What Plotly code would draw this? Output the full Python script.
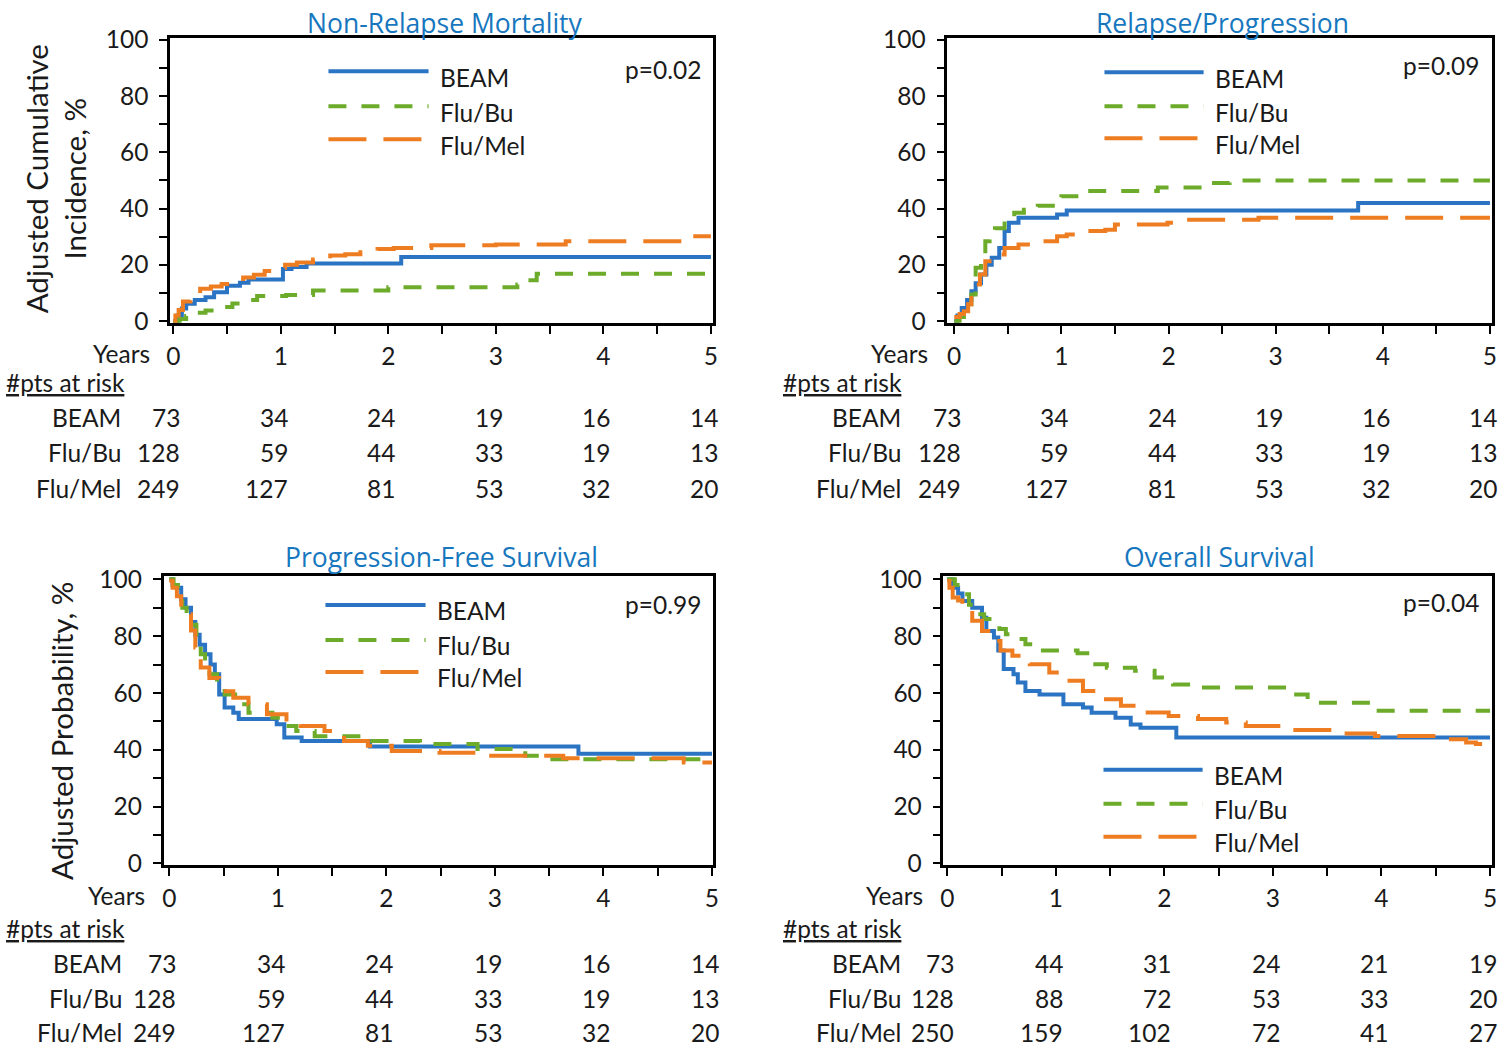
import plotly.graph_objects as go

# ---------------- data ----------------
groups = ["BEAM", "Flu/Bu", "Flu/Mel"]
years = [0, 1, 2, 3, 4, 5]

# Non-Relapse Mortality
nrm_beam_t = [0, 0.04, 0.08, 0.12, 0.2, 0.3, 0.38, 0.5, 0.62, 0.7, 1.02, 1.1, 1.24, 2.12, 5.0]
nrm_beam_y = [0, 2, 4.5, 6.2, 7.5, 8.5, 10.3, 12.6, 13.6, 14.8, 18.5, 19.2, 20.5, 22.8, 22.8]
nrm_bu_t = [0, 0.06, 0.12, 0.2, 0.3, 0.42, 0.55, 0.65, 0.78, 1.05, 1.3, 2.0, 3.2, 3.3, 3.38, 5.0]
nrm_bu_y = [0, 0.8, 1.8, 3.0, 3.8, 5.0, 6.3, 7.5, 8.9, 9.3, 10.9, 12.0, 13.0, 14.5, 16.8, 16.8]
nrm_mel_t = [0, 0.02, 0.05, 0.09, 0.16, 0.25, 0.35, 0.45, 0.55, 0.65, 0.75, 0.85, 0.95, 1.04, 1.15,
             1.3, 1.46, 1.6, 1.74, 1.9, 2.05, 2.4, 3.0, 3.65, 4.8, 5.0]
nrm_mel_y = [0, 2, 4, 7, 9, 11.5, 12.3, 13.2, 14, 15.5, 16.5, 17.8, 19, 20, 20.8,
             21.9, 23.3, 23.8, 24.5, 25.6, 26, 27, 27.2, 28.4, 30.2, 30.2]

# Relapse/Progression
rp_beam_t = [0, 0.03, 0.07, 0.12, 0.16, 0.2, 0.25, 0.3, 0.35, 0.42, 0.47, 0.51, 0.6, 0.96, 1.05, 3.77, 5.0]
rp_beam_y = [0, 2, 4.7, 7.5, 10.6, 13.5, 16.6, 20, 22.5, 26, 32, 35, 36.7, 37.9, 39.3, 42, 42]
rp_bu_t = [0, 0.05, 0.09, 0.13, 0.16, 0.2, 0.25, 0.29, 0.33, 0.38, 0.47, 0.56, 0.65, 0.78, 0.92,
           1.0, 1.14, 1.9, 2.34, 2.57, 5.0]
rp_bu_y = [0, 1.5, 3.5, 6, 9.5, 19, 24, 28.4, 31, 33, 37.3, 38.5, 39.6, 41, 42.6,
           44.4, 46.2, 47.5, 49.1, 50, 50]
rp_mel_t = [0, 0.05, 0.09, 0.13, 0.16, 0.2, 0.24, 0.29, 0.38, 0.47, 0.6, 0.78, 0.96, 1.05, 1.23,
            1.41, 1.5, 1.99, 2.08, 2.84, 5.0]
rp_mel_y = [1.5, 2.5, 3.5, 6, 9.5, 13, 16.6, 21.3, 23.7, 26, 27.2, 28.4, 30.2, 30.8, 32,
            32.5, 34.3, 35, 36, 36.7, 36.7]

# Progression-Free Survival
pfs_beam_t = [0, 0.03, 0.07, 0.11, 0.15, 0.2, 0.24, 0.28, 0.33, 0.38, 0.42, 0.46, 0.51, 0.59, 0.64,
              0.99, 1.06, 1.22, 1.85, 3.77, 5.0]
pfs_beam_y = [100, 98, 97, 93, 90, 85, 80.5, 77, 73.6, 70, 66.6, 59.5, 54.9, 53, 50.8,
              49, 44.3, 43.1, 41.2, 38.6, 38.6]
pfs_bu_t = [0, 0.04, 0.08, 0.12, 0.16, 0.2, 0.25, 0.29, 0.33, 0.37, 0.44, 0.51, 0.64, 0.73, 0.95,
            1.04, 1.17, 1.34, 1.87, 2.31, 2.84, 3.28, 3.46, 5.0]
pfs_bu_y = [100, 98, 93.5, 90, 87, 84, 78, 73.6, 70, 66.6, 62, 59.5, 56, 53, 51.3,
            48.4, 46.6, 44.8, 43.1, 42, 40.3, 37.9, 36.7, 36.7]
pfs_mel_t = [0, 0.03, 0.07, 0.11, 0.15, 0.2, 0.24, 0.29, 0.37, 0.46, 0.59, 0.73, 0.9, 1.08, 1.21,
             1.43, 1.61, 1.83, 2.05, 2.49, 2.84, 3.63, 4.74, 5.0]
pfs_mel_y = [99.5, 97, 94, 91, 87.7, 82, 76, 69, 65.3, 60.6, 58.3, 56, 52.5, 49.6, 48.4,
             46.6, 43.1, 41.4, 39.6, 39, 37.9, 37, 35.5, 35.5]

# Overall Survival
os_beam_t = [0, 0.05, 0.1, 0.14, 0.23, 0.32, 0.36, 0.43, 0.47, 0.52, 0.61, 0.65, 0.72, 0.85, 1.07,
             1.25, 1.33, 1.55, 1.69, 1.78, 2.11, 5.0]
os_beam_y = [100, 97, 95, 92.4, 90, 86.5, 81.8, 79.5, 74.9, 68.4, 66.6, 63.7, 60.7, 59.5, 56,
             54.9, 53, 51.3, 48.9, 47.8, 44.3, 44.3]
os_bu_t = [0, 0.07, 0.14, 0.2, 0.27, 0.34, 0.41, 0.48, 0.54, 0.63, 0.72, 0.85, 1.2, 1.29, 1.47,
           1.73, 1.91, 2.08, 2.26, 3.14, 3.32, 3.94, 5.0]
os_bu_y = [100, 98, 94.7, 91, 87.7, 86, 84.2, 82.5, 80.7, 79, 77.1, 74.9, 74, 70.1, 68.9,
           67.8, 65.4, 63, 61.9, 59.5, 56.6, 53.7, 53.7]
os_mel_t = [0, 0.02, 0.05, 0.1, 0.14, 0.23, 0.32, 0.41, 0.49, 0.6, 0.76, 0.94, 1.07, 1.25, 1.42,
            1.6, 1.82, 2.04, 2.31, 2.57, 2.75, 3.1, 3.59, 3.94, 4.51, 4.78, 4.87, 5.0]
os_mel_y = [99.4, 97, 93.6, 92.5, 91.2, 85.4, 81.8, 78.3, 74.9, 73.1, 70.1, 67.2, 64.3, 60.7, 57.8,
            55.5, 53.1, 51.9, 50.8, 49.6, 48.4, 47, 45.7, 44.9, 43.7, 42.6, 42, 42]

# numbers at risk
risk_top_beam = [73, 34, 24, 19, 16, 14]
risk_top_bu = [128, 59, 44, 33, 19, 13]
risk_top_mel = [249, 127, 81, 53, 32, 20]
risk_os_beam = [73, 44, 31, 24, 21, 19]
risk_os_bu = [128, 88, 72, 53, 33, 20]
risk_os_mel = [250, 159, 102, 72, 41, 27]

titles = ["Non-Relapse Mortality", "Relapse/Progression", "Progression-Free Survival", "Overall Survival"]
pvalues = ["p=0.02", "p=0.09", "p=0.99", "p=0.04"]

# ---------------- styling ----------------
W, H = 1500, 1054
FONT = "Lato"
TITLE_FONT = "Open Sans"
TXT = "#1a1a1a"
TITLE_C = "#1777BE"
COLORS = {"BEAM": "#2B74C4", "Flu/Bu": "#6CAC2A", "Flu/Mel": "#EE7D22"}
DASH = {"BEAM": "solid", "Flu/Bu": "18px,15px", "Flu/Mel": "38px,17px"}
LW = 4
FS = 24.5

# positions below are given in target-picture pixels and converted to page pixels
SX, OX = 0.992, 4
SY, OY = 1054 / 1080, 13


def px(x):
    page = (x - OX) / SX
    return min(max(page, 0), W) / W


def py(y, lo=0, hi=H):
    page = y / SY - OY
    return 1 - min(max(page, lo), hi) / H


panels = [
    dict(xr=[-0.03, 5.02], xd=(169.8, 712.1), yd=(37.0, 321.7), yr=[-0.6, 100.5],
         series=[(nrm_beam_t, nrm_beam_y), (nrm_bu_t, nrm_bu_y), (nrm_mel_t, nrm_mel_y)],
         risk=[risk_top_beam, risk_top_bu, risk_top_mel],
         title_xy=(444, 14), leg=(328, 428, [70, 105, 138]), p_xy=(702, 68),
         years_xy=(152, 352), risk_hdr=(2, 381), risk_lbl_x=123, risk_rows=[416, 451, 487]),
    dict(xr=[-0.065, 5.02], xd=(946.0, 1490.1), yd=(37.0, 321.7), yr=[-0.6, 100.5],
         series=[(rp_beam_t, rp_beam_y), (rp_bu_t, rp_bu_y), (rp_mel_t, rp_mel_y)],
         risk=[risk_top_beam, risk_top_bu, risk_top_mel],
         title_xy=(1221, 14), leg=(1103, 1202, [71, 105, 137]), p_xy=(1479, 64),
         years_xy=(929, 352), risk_hdr=(780, 381), risk_lbl_x=902, risk_rows=[416, 451, 487]),
    dict(xr=[-0.053, 5.013], xd=(163.3, 712.4), yd=(574.9, 864.4), yr=[-0.6, 101.2],
         series=[(pfs_beam_t, pfs_beam_y), (pfs_bu_t, pfs_bu_y), (pfs_mel_t, pfs_mel_y)],
         risk=[risk_top_beam, risk_top_bu, risk_top_mel],
         title_xy=(441, 556), leg=(325, 425, [604, 639, 671]), p_xy=(702, 604),
         years_xy=(147, 895), risk_hdr=(2, 928), risk_lbl_x=124, risk_rows=[963, 998, 1033]),
    dict(xr=[-0.035, 5.02], xd=(942.2, 1490.2), yd=(574.9, 864.4), yr=[-0.6, 101.2],
         series=[(os_beam_t, os_beam_y), (os_bu_t, os_bu_y), (os_mel_t, os_mel_y)],
         risk=[risk_os_beam, risk_os_bu, risk_os_mel],
         title_xy=(1218, 556), leg=(1102, 1201, [769, 803, 836]), p_xy=(1479, 602),
         years_xy=(924, 895), risk_hdr=(780, 928), risk_lbl_x=902, risk_rows=[963, 998, 1033]),
]

fig = go.Figure()
annotations = []
shapes = []
layout = dict(
    width=W, height=H, margin=dict(l=0, r=0, t=0, b=0),
    paper_bgcolor="white", plot_bgcolor="white", showlegend=False,
    font=dict(family=FONT, color=TXT, size=FS),
)

for i, p in enumerate(panels):
    n = "" if i == 0 else str(i + 1)
    xa, ya = "x" + n, "y" + n
    for (t, v), g in zip(p["series"], groups):
        fig.add_trace(go.Scatter(
            x=t, y=v, mode="lines", line=dict(shape="hv", color=COLORS[g], width=LW, dash=DASH[g]),
            name=g, xaxis=xa, yaxis=ya, hoverinfo="skip"))
    axis_common = dict(showline=True, linecolor="black", linewidth=2.5, mirror=True,
                       showgrid=False, zeroline=False, ticks="outside", ticklen=8, tickwidth=2,
                       tickcolor="black", tickfont=dict(family=FONT, size=FS, color=TXT))
    layout["xaxis" + n] = dict(
        **axis_common, domain=[px(p["xd"][0]), px(p["xd"][1])], range=p["xr"],
        tickmode="array", tickvals=years, ticktext=[str(y) for y in years],
        minor=dict(dtick=0.5, tick0=0, ticks="outside", ticklen=8, tickwidth=2, tickcolor="black"),
        anchor=ya, ticklabelstandoff=2)
    layout["yaxis" + n] = dict(
        **axis_common, domain=[py(p["yd"][1]), py(p["yd"][0])], range=p["yr"],
        tickmode="array", tickvals=[0, 20, 40, 60, 80, 100],
        minor=dict(dtick=10, tick0=0, ticks="outside", ticklen=8, tickwidth=2, tickcolor="black"),
        anchor=xa, ticklabelstandoff=6)

    # title
    annotations.append(dict(text=titles[i], x=px(p["title_xy"][0]), y=py(p["title_xy"][1], lo=9.5),
                            xref="paper", yref="paper", showarrow=False, xanchor="center",
                            yanchor="middle", font=dict(family=TITLE_FONT, size=26.5, color=TITLE_C)))
    # p-value
    annotations.append(dict(text=pvalues[i], x=px(p["p_xy"][0]), y=py(p["p_xy"][1]),
                            xref="paper", yref="paper", showarrow=False, xanchor="right",
                            yanchor="middle", font=dict(family=FONT, size=FS, color=TXT)))
    # legend
    lx0, lx1, lys = p["leg"]
    for g, ly in zip(groups, lys):
        shapes.append(dict(type="line", xref="paper", yref="paper", x0=px(lx0), x1=px(lx1),
                           y0=py(ly), y1=py(ly),
                           line=dict(color=COLORS[g], width=LW, dash=DASH[g])))
        annotations.append(dict(text=g, x=px(lx1 + 9), y=py(ly + 6), xref="paper", yref="paper",
                                showarrow=False, xanchor="left", yanchor="middle",
                                font=dict(family=FONT, size=FS, color=TXT)))
    # years label
    annotations.append(dict(text="Years", x=px(p["years_xy"][0]), y=py(p["years_xy"][1]),
                            xref="paper", yref="paper", showarrow=False, xanchor="right",
                            yanchor="middle", font=dict(family=FONT, size=FS, color=TXT)))
    # at risk header
    annotations.append(dict(text="<u>#pts at risk</u>", x=px(p["risk_hdr"][0]), y=py(p["risk_hdr"][1]),
                            xref="paper", yref="paper", showarrow=False, xanchor="left",
                            yanchor="middle", font=dict(family=FONT, size=FS, color=TXT)))
    for g, row, ry in zip(groups, p["risk"], p["risk_rows"]):
        annotations.append(dict(text=g, x=px(p["risk_lbl_x"]), y=py(ry, hi=1044), xref="paper",
                                yref="paper", showarrow=False, xanchor="right", yanchor="middle",
                                font=dict(family=FONT, size=FS, color=TXT)))
        for yr, val in zip(years, row):
            annotations.append(dict(text=str(val), x=yr, y=py(ry, hi=1044), xref=xa, yref="paper",
                                    xshift=9, showarrow=False, xanchor="right", yanchor="middle",
                                    font=dict(family=FONT, size=FS, color=TXT)))

# y-axis titles
annotations.append(dict(text="Adjusted Cumulative<br>Incidence, %", x=px(55), y=py(178),
                        xref="paper", yref="paper", showarrow=False, textangle=-90,
                        xanchor="center", yanchor="middle",
                        font=dict(family=FONT, size=29.5, color=TXT)))
annotations.append(dict(text="Adjusted Probability, %", x=px(62), y=py(730),
                        xref="paper", yref="paper", showarrow=False, textangle=-90,
                        xanchor="center", yanchor="middle",
                        font=dict(family=FONT, size=29.5, color=TXT)))

layout["annotations"] = annotations
layout["shapes"] = shapes
fig.update_layout(**layout)

post = ("document.body.style.margin='0';document.body.style.padding='0';"
        "document.body.style.overflow='hidden';"
        "var d=document.getElementById('{plot_id}');d.style.position='absolute';"
        "d.style.left='0px';d.style.top='0px';")
fig.write_html("out.html", post_script=post, config={"displayModeBar": False})
